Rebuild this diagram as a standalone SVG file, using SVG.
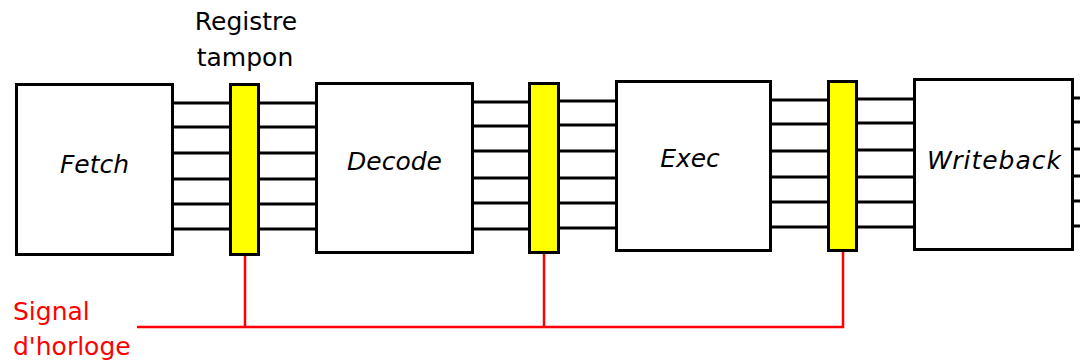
<svg xmlns="http://www.w3.org/2000/svg" width="1080" height="363" viewBox="0 0 1080 363">
<style>
.box{fill:#fff;stroke:#000;stroke-width:3}
.reg{fill:#ffff00;stroke:#000;stroke-width:3}
.w{stroke:#000;stroke-width:3;fill:none}
.clk{stroke:#ff0000;stroke-width:2.5;fill:none}
.lbl{font-family:"DejaVu Sans",sans-serif;font-size:25px;font-style:italic;fill:#000;text-anchor:middle}
.t{font-family:"DejaVu Sans",sans-serif;font-size:25px;fill:#000}
.red{font-family:"DejaVu Sans",sans-serif;font-size:25px;fill:#ff0000}
</style>
<rect width="1080" height="363" fill="#fff"/>
<g id="connectors">
<path class="w" d="M174 103H229M174 127H229M174 153H229M174 179H229M174 204H229M174 229H229"/>
<path class="w" d="M260 103H315M260 127H315M260 153H315M260 179H315M260 204H315M260 229H315"/>
<path class="w" d="M474 102H528M474 126H528M474 151H528M474 178H528M474 203H528M474 229H528"/>
<path class="w" d="M560 101H615M560 125H615M560 151H615M560 178H615M560 203H615M560 228H615"/>
<path class="w" d="M772 100H827M772 124H827M772 151H827M772 177H827M772 202H827M772 227H827"/>
<path class="w" d="M858 99H913M858 123H913M858 150H913M858 177H913M858 202H913M858 227H913"/>
<path class="w" d="M1074 98H1080M1074 122H1080M1074 149H1080M1074 176H1080M1074 201H1080M1074 226H1080"/>
<path class="clk" d="M137 327H843V252M245 256V327M544 254V327"/>
</g>
<g id="fetch"><rect class="box" x="16.5" y="84.5" width="156" height="170"/><text class="lbl" x="94.5" y="173">Fetch</text></g>
<g id="reg1"><rect class="reg" x="230.5" y="84.5" width="28" height="170"/></g>
<g id="decode"><rect class="box" x="316.5" y="83.5" width="156" height="169"/><text class="lbl" x="394.5" y="170">Decode</text></g>
<g id="reg2"><rect class="reg" x="529.5" y="83.5" width="29" height="169"/></g>
<g id="exec"><rect class="box" x="616.5" y="81.5" width="154" height="169"/><text class="lbl" x="690" y="167">Exec</text></g>
<g id="reg3"><rect class="reg" x="828.5" y="81.5" width="28" height="169"/></g>
<g id="writeback"><rect class="box" x="914.5" y="79.5" width="158" height="170"/><text class="lbl" x="994" y="169" textLength="134">Writeback</text></g>
<g id="label-registre"><text class="t" x="246" y="30" text-anchor="middle">Registre</text><text class="t" x="245" y="66" text-anchor="middle">tampon</text></g>
<g id="label-signal"><text class="red" x="13" y="320">Signal</text><text class="red" x="13" y="355">d'horloge</text></g>
</svg>
